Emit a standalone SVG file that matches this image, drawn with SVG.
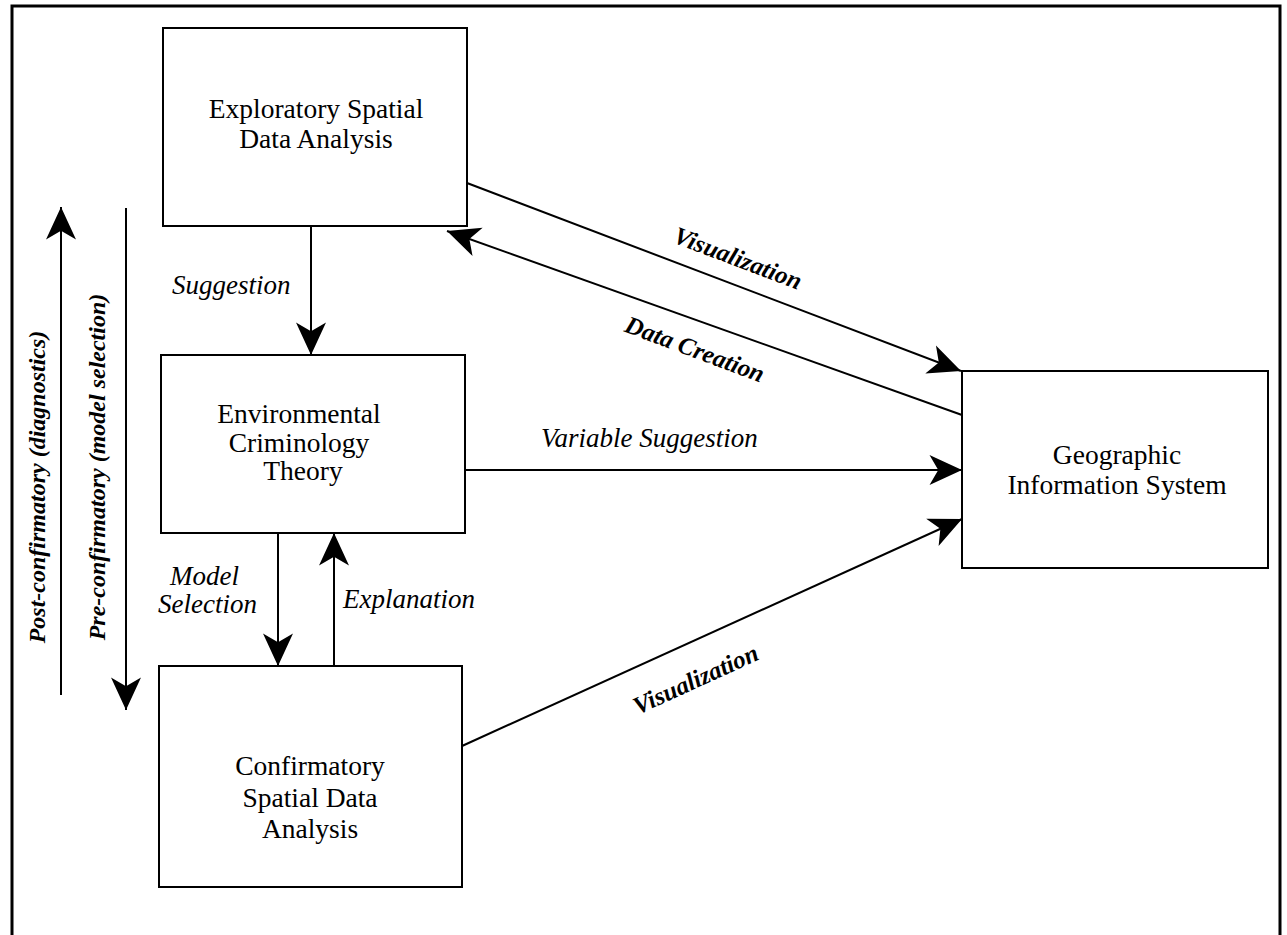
<svg xmlns="http://www.w3.org/2000/svg" width="1287" height="935" viewBox="0 0 1287 935">
<style>
.box{fill:#fff;stroke:#000;stroke-width:2}
.t{font-family:"Liberation Serif","Times New Roman",serif;font-size:27.5px;fill:#000;text-anchor:middle}
.l{font-family:"Liberation Serif","Times New Roman",serif;font-size:27px;font-style:italic;fill:#000}
.r{font-family:"Liberation Serif","Times New Roman",serif;font-size:25px;font-style:italic;font-weight:bold;fill:#000;text-anchor:middle}
.v{font-family:"Liberation Serif","Times New Roman",serif;font-size:24px;font-style:italic;font-weight:bold;fill:#000;text-anchor:middle}
.c{stroke:#000;stroke-width:2;fill:none;marker-end:url(#ah)}
</style>
<defs>
<marker id="ah" markerUnits="userSpaceOnUse" markerWidth="40" markerHeight="40" viewBox="-30 -15 32 30" refX="0" refY="0" orient="auto">
<path d="M0,0 L-26,-12 L-19,0 L-26,12 z" fill="#000"/>
</marker>
</defs>
<rect width="1287" height="935" fill="#fff"/>
<path d="M12,940 L12,6 L1280,6 L1280,940" fill="none" stroke="#000" stroke-width="3"/>

<g id="esda">
<rect class="box" x="163" y="28" width="304" height="198"/>
<text class="t" x="316" y="118">Exploratory Spatial</text>
<text class="t" x="316" y="148">Data Analysis</text>
</g>
<g id="ect">
<rect class="box" x="161" y="355" width="304" height="178"/>
<text class="t" x="299" y="423">Environmental</text>
<text class="t" x="299" y="452">Criminology</text>
<text class="t" x="303" y="480">Theory</text>
</g>
<g id="csda">
<rect class="box" x="159" y="666" width="303" height="221"/>
<text class="t" x="310" y="775">Confirmatory</text>
<text class="t" x="310" y="807">Spatial Data</text>
<text class="t" x="310" y="838">Analysis</text>
</g>
<g id="gis">
<rect class="box" x="962" y="371" width="306" height="197"/>
<text class="t" x="1117" y="464">Geographic</text>
<text class="t" x="1117" y="494">Information System</text>
</g>

<g id="connectors">
<line class="c" x1="311" y1="226" x2="311" y2="355"/>
<line class="c" x1="278" y1="533" x2="278" y2="666"/>
<line class="c" x1="334" y1="666" x2="334" y2="533"/>
<line class="c" x1="467" y1="183" x2="961" y2="371"/>
<line class="c" x1="962" y1="415" x2="447" y2="231"/>
<line class="c" x1="465" y1="470" x2="962" y2="470"/>
<line class="c" x1="462" y1="746" x2="962" y2="519"/>
<line class="c" x1="61" y1="695" x2="61" y2="207"/>
<line class="c" x1="126" y1="208" x2="126" y2="710"/>
</g>

<g id="labels">
<text class="l" x="172" y="294">Suggestion</text>
<text class="l" x="170" y="585">Model</text>
<text class="l" x="158" y="613">Selection</text>
<text class="l" x="343" y="608">Explanation</text>
<text class="l" x="541" y="447">Variable Suggestion</text>
<text class="r" transform="translate(735,266) rotate(20.8)">Visualization</text>
<text class="r" transform="translate(692,357) rotate(20.5)">Data Creation</text>
<text class="r" transform="translate(699,687) rotate(-24.5)">Visualization</text>
<text class="v" transform="translate(45,487) rotate(-90)">Post-confirmatory (diagnostics)</text>
<text class="v" transform="translate(105,467) rotate(-90)">Pre-confirmatory (model selection)</text>
</g>
</svg>
